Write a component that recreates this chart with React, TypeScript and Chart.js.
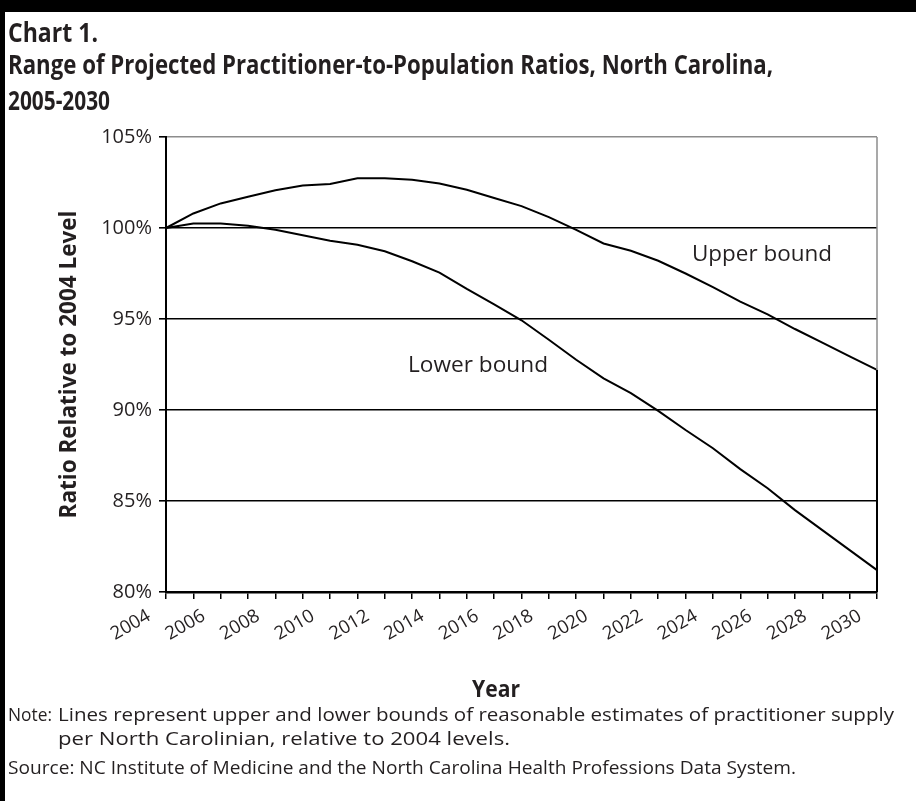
import React, { useEffect, useLayoutEffect, useRef } from 'react';
import { Chart, registerables } from 'chart.js';

Chart.register(...registerables);

// ---- data ----
const years = [
  '2004', '2005', '2006', '2007', '2008', '2009', '2010', '2011', '2012',
  '2013', '2014', '2015', '2016', '2017', '2018', '2019', '2020', '2021',
  '2022', '2023', '2024', '2025', '2026', '2027', '2028', '2029', '2030',
];
const upperBound = [
  100, 100.8, 101.35, 101.72, 102.07, 102.33, 102.42, 102.73, 102.73,
  102.65, 102.45, 102.1, 101.65, 101.2, 100.6, 99.9, 99.15, 98.75,
  98.2, 97.5, 96.75, 95.95, 95.25, 94.45, 93.7, 92.95, 92.2,
];
const lowerBound = [
  100, 100.25, 100.25, 100.12, 99.9, 99.6, 99.3, 99.08, 98.72,
  98.17, 97.55, 96.65, 95.8, 94.93, 93.86, 92.76, 91.74, 90.93,
  89.95, 88.9, 87.9, 86.75, 85.7, 84.5, 83.4, 82.3, 81.2,
];
const yTickValues = [80, 85, 90, 95, 100, 105];
const xTickLabels = years.map((y, i) => (i % 2 === 0 ? y : ''));

const titleLines = [
  'Chart 1.',
  'Range of Projected Practitioner-to-Population Ratios, North Carolina,',
  '2005-2030',
];
const yAxisTitle = 'Ratio Relative to 2004 Level';
const xAxisTitle = 'Year';
const upperLabel = 'Upper bound';
const lowerLabel = 'Lower bound';
const noteHead = 'Note:';
const noteLine1 = 'Lines represent upper and lower bounds of reasonable estimates of practitioner supply';
const noteLine2 = 'per North Carolinian, relative to 2004 levels.';
const sourceLine = 'Source: NC Institute of Medicine and the North Carolina Health Professions Data System.';

// ---- styles ----
const FONT = '"Open Sans", "Noto Sans", "DejaVu Sans", sans-serif';
const INK = '#231f20';

type FitProps = {
  text: string;
  left: number;
  baseline: number;
  width?: number;
  size: number;
  weight?: number;
};

function FitText({ text, left, baseline, width, size, weight = 400 }: FitProps) {
  const ref = useRef<HTMLSpanElement>(null);
  useLayoutEffect(() => {
    const el = ref.current;
    if (!el || !width) return;
    el.style.transform = 'none';
    const w = el.getBoundingClientRect().width;
    if (w > 0) el.style.transform = `scaleX(${width / w})`;
  }, [text, width, size]);
  return (
    <span
      ref={ref}
      style={{
        position: 'absolute',
        left,
        top: baseline - 0.888 * size,
        whiteSpace: 'nowrap',
        fontFamily: FONT,
        fontSize: size,
        fontWeight: weight,
        lineHeight: `${size}px`,
        color: INK,
        transformOrigin: '0 0',
      }}
    >
      {text}
    </span>
  );
}

const framePlugin = {
  id: 'frame',
  afterDatasetsDraw(chart: any) {
    const { ctx, chartArea, scales } = chart;
    const { right, top, bottom } = chartArea;
    const yEnd = scales.y.getPixelForValue(upperBound[upperBound.length - 1]);
    ctx.save();
    ctx.lineWidth = 1.5;
    ctx.strokeStyle = '#8c8c8c';
    ctx.beginPath();
    ctx.moveTo(right, top);
    ctx.lineTo(right, yEnd);
    ctx.stroke();
    ctx.strokeStyle = '#000';
    ctx.lineWidth = 2;
    ctx.beginPath();
    ctx.moveTo(right, yEnd);
    ctx.lineTo(right, bottom);
    ctx.stroke();
    ctx.restore();
  },
};

export default function App() {
  const canvasRef = useRef<HTMLCanvasElement>(null);

  useEffect(() => {
    const canvas = canvasRef.current;
    if (!canvas) return;
    const chart = new Chart(canvas, {
      type: 'line',
      data: {
        labels: years,
        datasets: [
          {
            label: upperLabel,
            data: upperBound,
            borderColor: '#000',
            borderWidth: 2,
            pointRadius: 0,
            tension: 0,
            fill: false,
          },
          {
            label: lowerLabel,
            data: lowerBound,
            borderColor: '#000',
            borderWidth: 2,
            pointRadius: 0,
            tension: 0,
            fill: false,
          },
        ],
      },
      options: {
        animation: false,
        responsive: false,
        devicePixelRatio: 1,
        layout: { padding: { left: 0, top: 137, right: 39, bottom: 0 } },
        plugins: {
          legend: { display: false },
          tooltip: { enabled: false },
          title: { display: false },
        },
        scales: {
          x: {
            type: 'category',
            offset: false,
            afterFit: (s: any) => {
              s.height = 209;
            },
            grid: {
              drawOnChartArea: false,
              drawTicks: true,
              tickLength: 7,
              color: '#000',
              lineWidth: 1.5,
            },
            border: { display: true, color: '#000', width: 2.5 },
            ticks: {
              autoSkip: false,
              maxRotation: 30,
              minRotation: 30,
              labelOffset: -17,
              padding: 6,
              color: INK,
              font: { family: FONT, size: 18.5 },
              callback: (_v: any, i: number) => xTickLabels[i],
            },
          },
          y: {
            min: yTickValues[0],
            max: yTickValues[yTickValues.length - 1],
            afterFit: (s: any) => {
              s.width = 166;
            },
            afterBuildTicks: (s: any) => {
              s.ticks = yTickValues.map((v) => ({ value: v }));
            },
            grid: {
              drawOnChartArea: true,
              drawTicks: true,
              tickLength: 7,
              color: (c: any) => (c.tick && c.tick.value === 105 ? '#8c8c8c' : '#000'),
              tickColor: '#000',
              lineWidth: 1.6,
            },
            border: { display: true, color: '#000', width: 2 },
            ticks: {
              padding: 7,
              color: INK,
              font: { family: FONT, size: 20 },
              callback: (v: any) => `${v}%`,
            },
            title: {
              display: true,
              text: yAxisTitle,
              color: INK,
              font: { family: FONT, size: 22.5, weight: 'bold' },
              padding: { top: 56, bottom: 0 },
            },
          },
        },
      },
      plugins: [framePlugin],
    });
    return () => chart.destroy();
  }, []);

  return (
    <div
      style={{
        position: 'absolute',
        left: 0,
        top: 0,
        width: 916,
        height: 801,
        background: '#fff',
        overflow: 'hidden',
      }}
    >
      <canvas
        ref={canvasRef}
        width={916}
        height={801}
        style={{ position: 'absolute', left: 0, top: 0, width: 916, height: 801 }}
      />
      <div style={{ position: 'absolute', left: 0, top: 0, width: 916, height: 12, background: '#000' }} />
      <div style={{ position: 'absolute', left: 0, top: 0, width: 5, height: 801, background: '#000' }} />

      <FitText text={titleLines[0]} left={8} baseline={42} width={90} size={26} weight={700} />
      <FitText text={titleLines[1]} left={8} baseline={74} width={765} size={26} weight={700} />
      <FitText text={titleLines[2]} left={8} baseline={110} width={102} size={26} weight={700} />

      <FitText text={upperLabel} left={692} baseline={261} width={140} size={22} />
      <FitText text={lowerLabel} left={408} baseline={372} width={140} size={22} />

      <FitText text={xAxisTitle} left={472} baseline={697} width={48} size={23} weight={700} />

      <FitText text={noteHead} left={8} baseline={722} width={44} size={19} />
      <FitText text={noteLine1} left={58} baseline={722} width={836} size={19} />
      <FitText text={noteLine2} left={58} baseline={746} width={452} size={19} />
      <FitText text={sourceLine} left={8} baseline={775} width={788} size={19} />
    </div>
  );
}
